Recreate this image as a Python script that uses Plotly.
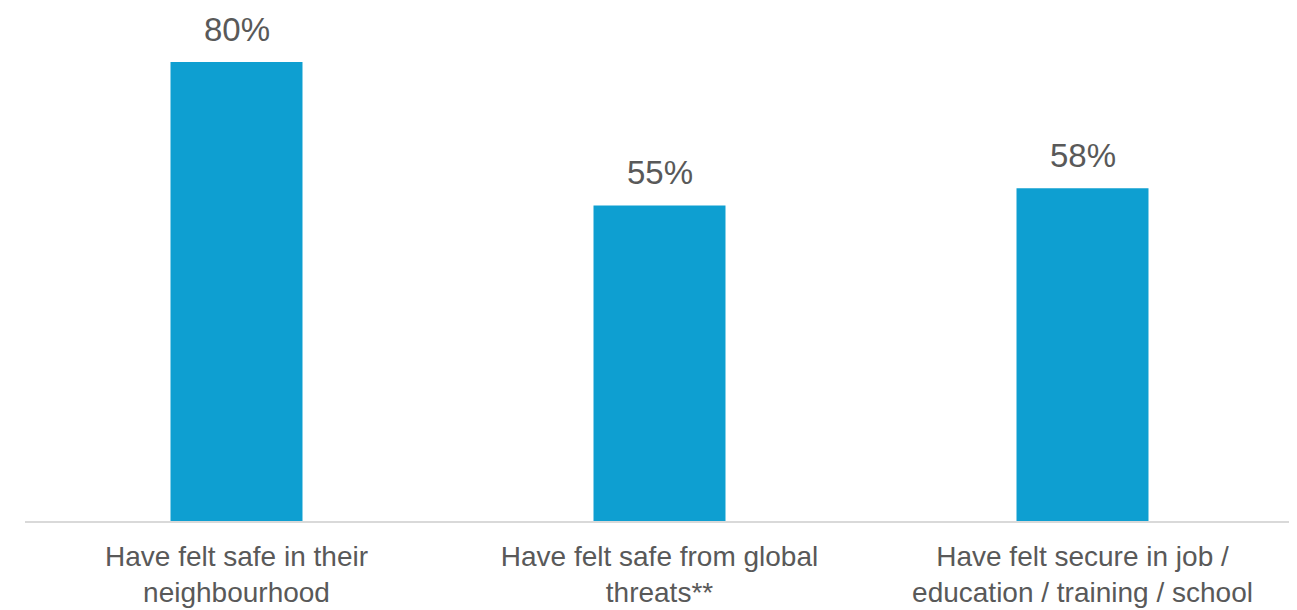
import plotly.graph_objects as go

categories = [
    "Have felt safe in their<br>neighbourhood",
    "Have felt safe from global<br>threats**",
    "Have felt secure in job /<br>education / training / school",
]
values = [80, 55, 58]

BAR_COLOR = "#0E9FD1"
TEXT_COLOR = "#595959"

fig = go.Figure()
fig.add_trace(
    go.Bar(
        x=categories,
        y=values,
        marker=dict(color=BAR_COLOR, line=dict(width=0)),
        hoverinfo="skip",
    )
)

# value labels above the bars
for cat, val in zip(categories, values):
    fig.add_annotation(
        x=cat,
        y=val,
        text=f"{val}%",
        showarrow=False,
        yanchor="bottom",
        yshift=12,
        font=dict(size=33, color=TEXT_COLOR, family="Liberation Sans, Arial, sans-serif"),
    )

# page body adds an 8px offset, so the figure is sized to fit inside it
fig.update_layout(
    width=1289,
    height=602,
    margin=dict(l=17, r=3, t=0, b=89),
    plot_bgcolor="white",
    paper_bgcolor="white",
    bargap=0.688,
    showlegend=False,
    font=dict(family="Liberation Sans, Arial, sans-serif", color=TEXT_COLOR),
)
fig.update_xaxes(
    automargin=False,
    showline=True,
    linecolor="#D9D9D9",
    linewidth=2,
    ticks="outside",
    ticklen=9,
    tickcolor="rgba(0,0,0,0)",
    tickfont=dict(size=28, color=TEXT_COLOR),
    showgrid=False,
)
fig.update_yaxes(
    automargin=False,
    range=[0, 89.4],
    visible=False,
    showgrid=False,
    zeroline=False,
)

fig.write_html("out.html")
